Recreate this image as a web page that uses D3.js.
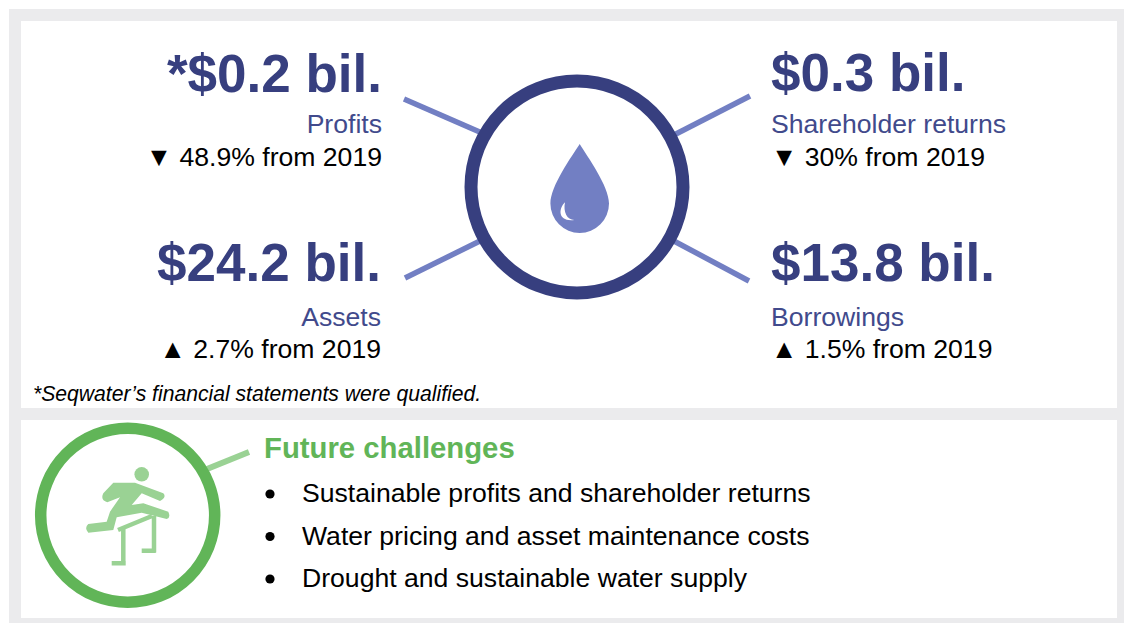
<!DOCTYPE html>
<html>
<head>
<meta charset="utf-8">
<script src="https://cdn.jsdelivr.net/npm/d3@7"></script>
<style>
  html, body { margin: 0; padding: 0; background: #fff; }
  text { font-family: "Liberation Sans", Arial, sans-serif; }
</style>
</head>
<body>
<div id="chart"></div>
<script>
const figures = ["*$0.2 bil.", "$0.3 bil.", "$24.2 bil.", "$13.8 bil."];
const measures = ["Profits", "Shareholder returns", "Assets", "Borrowings"];
const changes = ["\u25BC 48.9% from 2019", "\u25BC 30% from 2019", "\u25B2 2.7% from 2019", "\u25B2 1.5% from 2019"];
const note = "*Seqwater\u2019s financial statements were qualified.";
const challengeTitle = "Future challenges";
const challenges = [
  "Sustainable profits and shareholder returns",
  "Water pricing and asset maintenance costs",
  "Drought and sustainable water supply"
];

const width = 1124, height = 623;
const navy = "#373f7f", periwinkle = "#727fc3", labelBlue = "#414a8c";
const green = "#61b558", lightGreen = "#9ad294", panelGrey = "#ebebed";

const svg = d3.select("#chart")
  .append("svg")
    .attr("width", width)
    .attr("height", height)
    .style("display", "block");

// Grey frame with the two white panels
svg.append("rect").attr("x", 9).attr("y", 9).attr("width", 1115).attr("height", 614).attr("fill", panelGrey);
svg.append("rect").attr("x", 21).attr("y", 21).attr("width", 1096).attr("height", 387).attr("fill", "#fff");
svg.append("rect").attr("x", 21).attr("y", 420).attr("width", 1096).attr("height", 198).attr("fill", "#fff");

// Spokes go under the ring
const spokes = [[404, 99, 482, 133], [750, 96, 672, 136], [405, 278, 482, 240], [749, 281, 672, 240]];
svg.selectAll(".spoke")
  .data(spokes)
  .join("line")
    .attr("class", "spoke")
    .attr("x1", d => d[0]).attr("y1", d => d[1])
    .attr("x2", d => d[2]).attr("y2", d => d[3])
    .attr("stroke", periwinkle)
    .attr("stroke-width", 5.5);

svg.append("circle")
  .attr("cx", 577).attr("cy", 187).attr("r", 106)
  .attr("fill", "#fff").attr("stroke", navy).attr("stroke-width", 13);

// Water drop
svg.append("path")
  .attr("d", "M579.7,144 C587,156 609,186 609,203.5 A29.3,29.5 0 0 1 550.4,203.5 C550.4,186 572,156 579.7,144 Z")
  .attr("fill", periwinkle);
svg.append("path")
  .attr("d", "M565,202.3 C558,209 558,222 574.3,220 C567,220 563,212 565,202.3 Z")
  .attr("fill", "#fff");

// Text blocks either side of the ring
const anchors = ["end", "start", "end", "start"];
const blockX = [382, 771, 381, 771];
const figureY = [92, 91, 281, 281];
const measureY = [133, 133, 326, 326];
const changeY = [166, 166, 358, 358];

figures.forEach((f, i) => {
  svg.append("text").attr("x", blockX[i]).attr("y", figureY[i])
    .attr("text-anchor", anchors[i])
    .attr("font-size", 53).attr("font-weight", 700).attr("fill", navy)
    .text(f);
  svg.append("text").attr("x", blockX[i]).attr("y", measureY[i])
    .attr("text-anchor", anchors[i])
    .attr("font-size", 26.6).attr("fill", labelBlue)
    .text(measures[i]);
  svg.append("text").attr("x", blockX[i]).attr("y", changeY[i])
    .attr("text-anchor", anchors[i])
    .attr("font-size", 26.6).attr("fill", "#000")
    .text(changes[i]);
});

svg.append("text")
  .attr("x", 33).attr("y", 400.5)
  .attr("font-size", 21.15).attr("font-style", "italic").attr("fill", "#000")
  .text(note);

// Lower panel: hurdler badge
svg.append("line")
  .attr("x1", 207).attr("y1", 469).attr("x2", 249).attr("y2", 452)
  .attr("stroke", lightGreen).attr("stroke-width", 6);
svg.append("circle")
  .attr("cx", 127.7).attr("cy", 515.3).attr("r", 87)
  .attr("fill", "#fff").attr("stroke", green).attr("stroke-width", 11.5);

svg.append("circle").attr("cx", 141.7).attr("cy", 474.3).attr("r", 7.3).attr("fill", lightGreen);
// body and limbs
svg.append("path")
  .attr("d", "M113.3,482.7 L135,482.7 L163.3,493.3 Q167,497 160,501 L141.7,493.3 L131.7,505 L143.3,503.3 L168.3,511.7 Q171,518 166.7,519 L141.7,512.7 L116.7,517.3 L113.3,530 L88.3,532.7 Q84,528 88.3,524 L106.7,521.7 L110,511.7 L120,497.3 L107.3,502.3 Q100,500 103.3,493.3 Z")
  .attr("fill", lightGreen);
// hurdle
svg.append("path")
  .attr("d", "M118,530 L152,516 M123.3,528 L123.3,565 M111.7,563.3 L125.7,563.3 M154,516 L154,552.5 M141.7,550.7 L155.7,550.7")
  .attr("fill", "none").attr("stroke", lightGreen).attr("stroke-width", 4.5);

svg.append("text")
  .attr("x", 264).attr("y", 458)
  .attr("font-size", 29.3).attr("font-weight", 700).attr("fill", green)
  .text(challengeTitle);

const rowY = d3.scalePoint().domain(challenges).range([502, 587]);

svg.selectAll(".bullet")
  .data(challenges)
  .join("circle")
    .attr("class", "bullet")
    .attr("cx", 270).attr("cy", d => rowY(d) - 8)
    .attr("r", 4.6)
    .attr("fill", "#000");

svg.selectAll(".challenge")
  .data(challenges)
  .join("text")
    .attr("class", "challenge")
    .attr("x", 302).attr("y", d => rowY(d))
    .attr("font-size", 26.6).attr("fill", "#000")
    .text(d => d);
</script>
</body>
</html>
